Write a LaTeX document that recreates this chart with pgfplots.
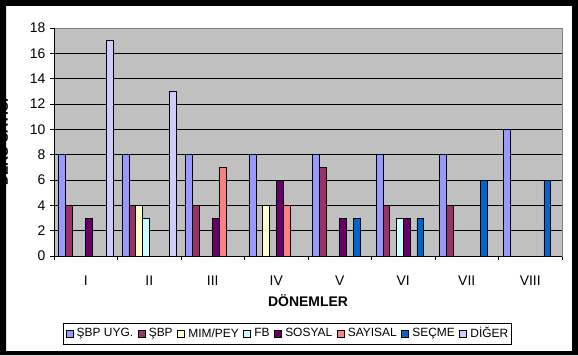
\documentclass[border=0pt]{standalone}
\usepackage{pgfplots}
\pgfplotsset{compat=1.18}
\usepackage{fontspec}
\setmainfont{Liberation Sans}
\definecolor{cA}{HTML}{9999FF}
\definecolor{cB}{HTML}{993366}
\definecolor{cC}{HTML}{FFFFCC}
\definecolor{cD}{HTML}{CCFFFF}
\definecolor{cE}{HTML}{660066}
\definecolor{cF}{HTML}{FF8080}
\definecolor{cG}{HTML}{0066CC}
\definecolor{cH}{HTML}{CCCCFF}
\definecolor{plotbg}{HTML}{C0C0C0}
\definecolor{frame}{HTML}{808080}
\begin{document}
\begin{tikzpicture}[x=1bp,y=1bp]
\useasboundingbox (0,0) rectangle (578,355);
\fill[white] (0,0) rectangle (578,355);
\node[rotate=90, font=\fontsize{14}{16}\selectfont\bfseries] at (3,213) {DERS SAYISI};
\begin{axis}[
  at={(54bp,99bp)}, anchor=south west,
  scale only axis, width=508bp, height=228bp,
  xmin=0.5, xmax=8.5, ymin=0, ymax=18,
  ybar=0pt, bar width=6.8bp,
  axis background/.style={fill=plotbg},
  axis line style={draw=frame, line width=0.8bp},
  ytick={0,2,...,18},
  ymajorgrids, grid style={black, line width=0.8bp},
  xtick={1,...,8},
  xticklabels={I,II,III,IV,V,VI,VII,VIII},
  major x tick style={draw=none},
  minor xtick={0.5,1.5,...,8.5},
  minor tick length=4bp,
  minor x tick style={black, line width=0.6bp},
  major tick length=4bp,
  ytick style={black, line width=0.6bp},
  tick align=outside,
  tick pos=left,
  /pgf/number format/assume math mode=true,
  tick label style={font=\fontsize{14}{16}\selectfont},
  yticklabel style={xshift=-1bp},
  xticklabel style={anchor=center, yshift=-21bp},
  xlabel={DÖNEMLER},
  xlabel style={font=\fontsize{14}{16}\selectfont\bfseries, at={(axis description cs:0.5,-0.197)}, anchor=center},
  every axis plot/.append style={draw=black, line width=0.6bp},
  legend columns=8,
  legend style={at={(0.4596,-0.340)}, anchor=center, draw=black, fill=white, line width=0.8bp,
    font=\fontsize{12}{15}\selectfont, inner xsep=2bp, inner ysep=2.5bp,
    nodes={inner xsep=1bp},
    /tikz/every odd column/.append style={column sep=2.5bp},
    /tikz/every even column/.append style={column sep=3.5bp}},
  legend image code/.code={\draw[#1, draw=black, line width=0.6bp] (0bp,-3.5bp) rectangle (7bp,3.5bp);},
  clip=false,
]
\addplot[fill=cA] coordinates {(1,8)(2,8)(3,8)(4,8)(5,8)(6,8)(7,8)(8,10)};
\addplot[fill=cB] coordinates {(1,4)(2,4)(3,4)(5,7)(6,4)(7,4)};
\addplot[fill=cC] coordinates {(2,4)(4,4)};
\addplot[fill=cD] coordinates {(2,3)(6,3)};
\addplot[fill=cE] coordinates {(1,3)(3,3)(4,6)(5,3)(6,3)};
\addplot[fill=cF] coordinates {(3,7)(4,4)};
\addplot[fill=cG] coordinates {(5,3)(6,3)(7,6)(8,6)};
\addplot[fill=cH] coordinates {(1,17)(2,13)};
\legend{ŞBP UYG.,ŞBP,MIM/PEY,FB,SOSYAL,SAYISAL,SEÇME,DİĞER}
\draw[black, line width=0.8bp] (rel axis cs:0,1) -- (rel axis cs:0,0) -- (rel axis cs:1,0);
\end{axis}
\fill[black, even odd rule] (0,0) rectangle (578,355) (6,4) rectangle (572,349);
\end{tikzpicture}
\end{document}
